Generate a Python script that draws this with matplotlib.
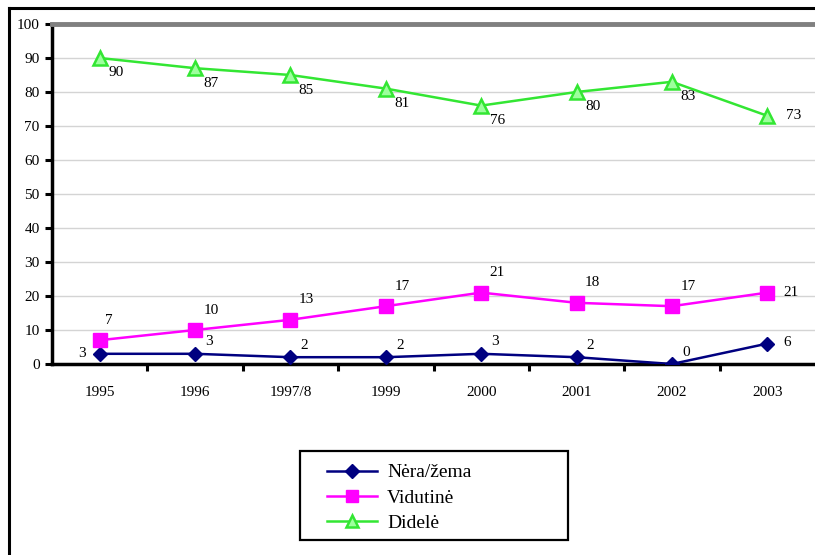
import matplotlib
matplotlib.use("Agg")
import matplotlib.pyplot as plt
from matplotlib.lines import Line2D
from matplotlib.patches import Rectangle

plt.rcParams['font.family'] = ['Liberation Serif', 'DejaVu Serif']

years = ["1995", "1996", "1997/8", "1999", "2000", "2001", "2002", "2003"]
nera_zema = [3, 3, 2, 2, 3, 2, 0, 6]
vidutine = [7, 10, 13, 17, 21, 18, 17, 21]
didele = [90, 87, 85, 81, 76, 80, 83, 73]
series_names = ["Nėra/žema", "Vidutinė", "Didelė"]

W, H = 815, 555
fig = plt.figure(figsize=(W / 100, H / 100), dpi=100)
ax = fig.add_axes([52 / W, 1 - 364 / H, 1 - 52 / W, (364 - 24) / H])

x = list(range(len(years)))

navy = "#000080"
magenta = "#ff00ff"
green = "#33e633"

l1, = ax.plot(x, nera_zema, color=navy, lw=1.8, marker="D", ms=7.5,
              mfc=navy, mec=navy, zorder=4)
l2, = ax.plot(x, vidutine, color=magenta, lw=1.8, marker="s", ms=10,
              mfc=magenta, mec=magenta, zorder=4)
l3, = ax.plot(x, didele, color=green, lw=1.8, marker="^", ms=10,
              mfc="#9dff9d", mec=green, mew=1.8, zorder=4)

# value labels
lab_kw = dict(textcoords="offset pixels", ha="center", va="center", fontsize=11)
n = len(years)
for i, v in enumerate(nera_zema):
    if i == 0:
        off = (-18, 0)
    elif i == n - 1:
        off = (20, 1)
    else:
        off = (14, 12)
    ax.annotate(str(v), (i, v), xytext=off, **lab_kw)
for i, v in enumerate(vidutine):
    if i == n - 1:
        off = (24, 0)
    elif i == 0:
        off = (9, 20)
    else:
        off = (16, 20)
    ax.annotate(str(v), (i, v), xytext=off, **lab_kw)
for i, v in enumerate(didele):
    if i == n - 1:
        off = (26, 0)
    else:
        off = (16, -15)
    ax.annotate(str(v), (i, v), xytext=off, **lab_kw)

ax.set_xlim(-0.5, n - 0.5)
ax.set_ylim(0, 100)
ax.set_yticks(range(0, 101, 10))
ax.set_xticks(x)
ax.set_xticklabels(years, fontsize=11)
ax.set_xticks([i + 0.5 for i in range(n - 1)], minor=True)
ax.tick_params(axis="x", which="major", length=0, pad=16)
ax.tick_params(axis="x", which="minor", length=5, width=2.2, direction="out", color="black")
ax.tick_params(axis="y", length=5, width=2.2, labelsize=11, pad=4)

ax.yaxis.grid(True, color="#d4d4d4", lw=1)
ax.set_axisbelow(True)

for s in ("left", "bottom"):
    ax.spines[s].set_color("black")
    ax.spines[s].set_linewidth(2.5)
ax.spines["top"].set_color("#808080")
ax.spines["top"].set_linewidth(3.5)
ax.spines["right"].set_visible(False)

# legend box
fig.add_artist(Rectangle((300 / W, 1 - 540 / H), 268 / W, 89 / H,
                         transform=fig.transFigure, fill=False,
                         edgecolor="black", lw=1.6))
fig.legend([l1, l2, l3], series_names, loc="upper left",
           bbox_to_anchor=(317 / W, 1 - 454 / H), frameon=False,
           fontsize=14, handlelength=2.6, handletextpad=0.5,
           labelspacing=0.4, borderpad=0, markerscale=0.9)

# outer frame
fig.add_artist(Line2D([9 / W, 1], [1 - 8 / H, 1 - 8 / H],
                      transform=fig.transFigure, color="black", lw=2.2))
fig.add_artist(Line2D([9 / W, 9 / W], [0, 1 - 8 / H],
                      transform=fig.transFigure, color="black", lw=2.2))

fig.savefig("out.png", dpi=100)
